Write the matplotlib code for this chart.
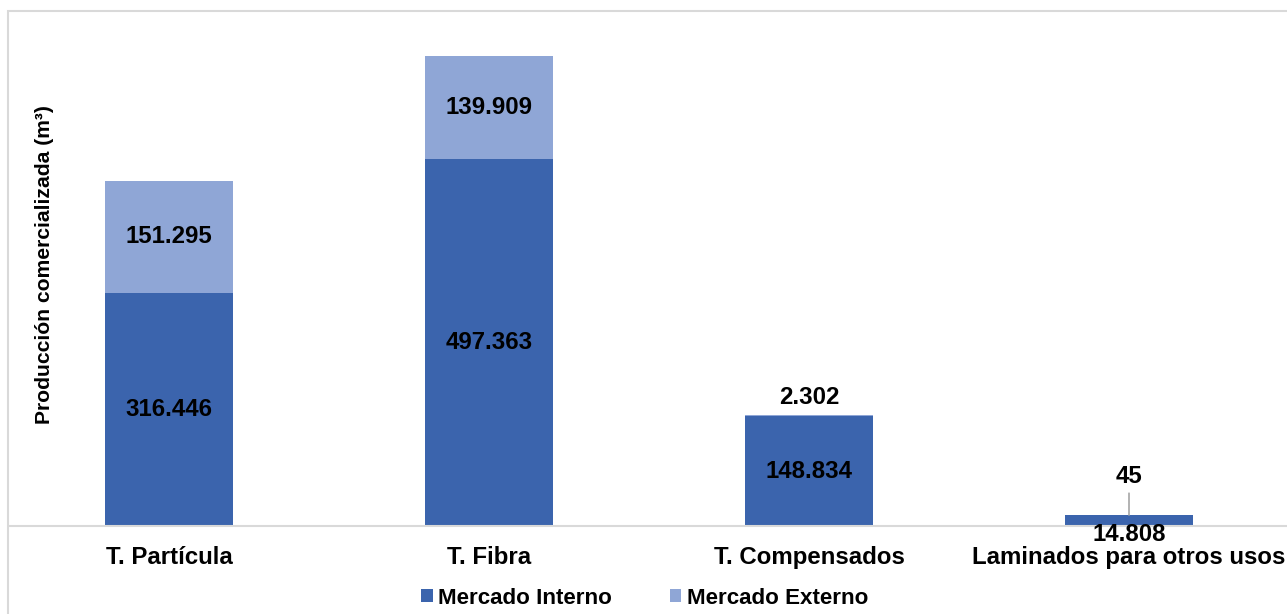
import matplotlib.pyplot as plt
import matplotlib.patches as mpatches
import numpy as np

plt.rcParams['font.family'] = ['Liberation Sans', 'DejaVu Sans']
plt.rcParams['font.weight'] = 'bold'

# data
categorias = ['T. Partícula', 'T. Fibra', 'T. Compensados', 'Laminados para otros usos']
interno = [316446, 497363, 148834, 14808]
externo = [151295, 139909, 2302, 45]
etq_interno = ['316.446', '497.363', '148.834', '14.808']
etq_externo = ['151.295', '139.909', '2.302', '45']

c_int = '#3B64AD'
c_ext = '#8FA6D6'
FS = 17.3

fig = plt.figure(figsize=(12.87, 6.14), dpi=100)
ax = fig.add_axes([9/1287, 88/614, 1280/1287, 506/614])

x = np.arange(len(categorias))
w = 0.4
ax.bar(x, interno, w, color=c_int, label='Mercado Interno')
ax.bar(x, externo, w, bottom=interno, color=c_ext, label='Mercado Externo')

ax.set_xlim(-0.5, 3.5)
ax.set_ylim(0, 686000)

# labels inside the big segments
for i in range(2):
    ax.text(x[i], interno[i] / 2, etq_interno[i], ha='center', va='center', fontsize=FS)
    ax.text(x[i], interno[i] + externo[i] / 2, etq_externo[i], ha='center', va='center', fontsize=FS)

ax.text(x[2], interno[2] / 2, etq_interno[2], ha='center', va='center', fontsize=FS)
ax.annotate(etq_externo[2], xy=(x[2], interno[2] + externo[2]), xytext=(0, 12),
            textcoords='offset points', ha='center', va='center', fontsize=FS)

# small bar
ax.annotate(etq_externo[3], xy=(x[3], interno[3] + externo[3]), xytext=(0, 28),
            textcoords='offset points', ha='center', va='center', fontsize=FS,
            arrowprops=dict(arrowstyle='-', color='#A6A6A6', lw=1.2, shrinkA=2, shrinkB=0))
ax.annotate(etq_interno[3], xy=(x[3], 0), xytext=(0, -6),
            textcoords='offset points', ha='center', va='center', fontsize=FS)

for s in ['top', 'right', 'left']:
    ax.spines[s].set_visible(False)
ax.spines['bottom'].set_color('#D9D9D9')
ax.spines['bottom'].set_linewidth(1.5)
ax.set_yticks([])
ax.set_xticks(x)
ax.set_xticklabels(categorias, fontsize=FS, fontweight='bold')
ax.tick_params(axis='x', length=0, pad=14.5)

fig.text(45/1287, 1 - 265/614, 'Producción comercializada (m³)', rotation=90,
         ha='center', va='center', fontsize=15.2, fontweight='bold')

fig.legend(loc='center', bbox_to_anchor=(0.501, 16/614), ncol=2, frameon=False,
           fontsize=16.1, handlelength=0.5, handleheight=0.5, handletextpad=0.25,
           columnspacing=2.6)

# outer chart border (light gray)
border = mpatches.Rectangle((8/1287, -0.1), 1.2, 1.1 - 11/614, transform=fig.transFigure,
                            fill=False, edgecolor='#D9D9D9', lw=1.5, clip_on=False)
fig.patches.append(border)

fig.savefig('out.png', dpi=100)
